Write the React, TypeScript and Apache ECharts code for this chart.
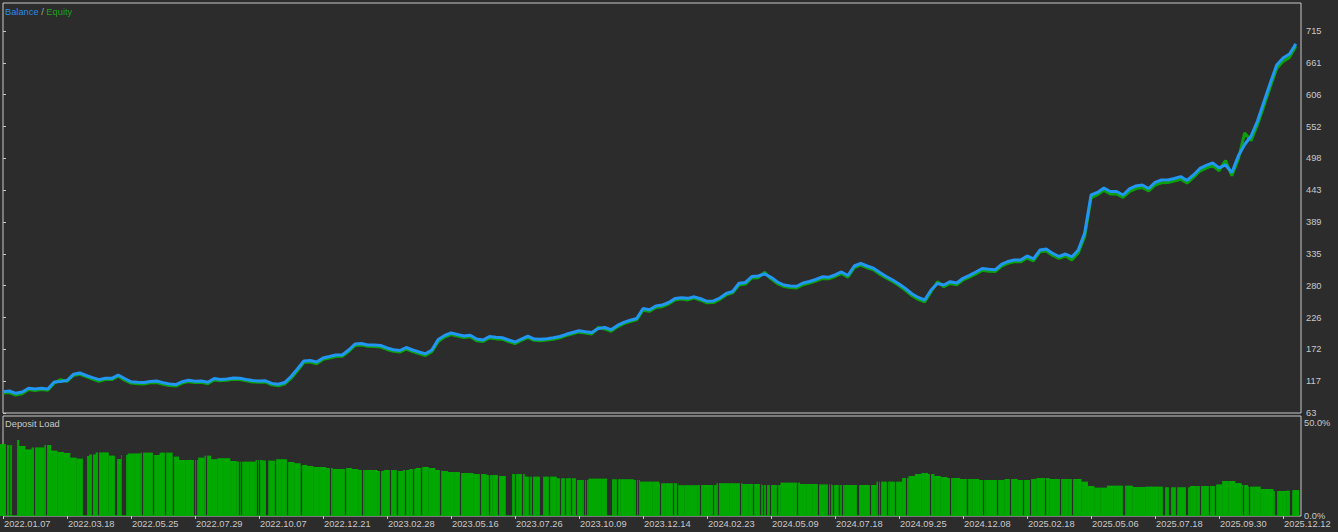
import React, { useEffect, useRef } from 'react';
import * as echarts from 'echarts';

// x axis: deal index (10 steps between date labels)
const dateLabels = [
  '2022.01.07', '2022.03.18', '2022.05.25', '2022.07.29', '2022.10.07', '2022.12.21',
  '2023.02.28', '2023.05.16', '2023.07.26', '2023.10.09', '2023.12.14', '2024.02.23',
  '2024.05.09', '2024.07.18', '2024.09.25', '2024.12.08', '2025.02.18', '2025.05.06',
  '2025.07.18', '2025.09.30', '2025.12.12',
];
const dateTicks = [0, 10, 20, 30, 40, 50, 60, 70, 80, 90, 100, 110, 120, 130, 140, 150, 160, 170, 180, 190, 200];
const X_MAX = 202.8;

const balanceTicks = [63, 117.33, 171.67, 226, 280.33, 334.67, 389, 443.33, 497.67, 552, 606.33, 660.67, 715];
const BAL_MIN = 63;
const BAL_MAX = 762.8;

const balance = [
  99.4, 100.6, 96.6, 98.8, 105.2, 104, 105.2, 104, 115.9, 116.8,
  118.5, 129, 131.3, 127, 123.4, 120, 122.2, 122.2, 127.9, 121.9,
  116.3, 115.4, 115, 116.8, 117.6, 114.7, 112.5, 111.6, 116.4, 118.8,
  117.1, 117.6, 115.6, 121.9, 120.2, 121, 122.7, 122.2, 120.2, 118.3,
  117.6, 118, 113.4, 112, 115, 125.3, 138.1, 151.8, 152.6, 150,
  156.9, 159.4, 162, 162, 170.5, 180.8, 181.6, 179.1, 179.1, 178.2,
  174, 170.9, 169.7, 174.8, 170.5, 167.1, 164, 170.5, 188.5, 195.3,
  199.6, 197, 194.4, 195.8, 189.3, 187.6, 193.6, 192.2, 191.5, 187.6,
  184.2, 189.3, 194.1, 189.3, 188.8, 189.7, 191.3, 193.6, 197.3, 200.4,
  203.3, 201.8, 200.4, 207.2, 208.9, 205.2, 212.4, 217.8, 221.4, 224.3,
  241.4, 239.2, 245.6, 247.3, 251.6, 258.4, 259.7, 258.7, 261.3, 258,
  253.6, 254.2, 259.3, 267, 270.4, 284.4, 285.8, 296, 296.9, 300.3,
  294.6, 286.6, 281.5, 279.8, 279.3, 284.9, 287.5, 290.9, 295.5, 294.9,
  298.6, 303.7, 297.7, 313.9, 318.5, 313.9, 310, 302.8, 296, 290,
  283.2, 275.5, 266.5, 260.2, 255.9, 272.9, 284, 281.5, 287.1, 284.9,
  292.9, 298, 303.7, 309.6, 308.3, 307.4, 316.5, 321.6, 324.2, 324.2,
  331, 325.9, 341.2, 342.9, 335.3, 330.1, 334.4, 329.3, 341.2, 370.3,
  435.1, 439.4, 447.1, 441.1, 441.1, 435.1, 445.4, 450.5, 452.2, 446.2,
  456.5, 460.7, 460.7, 463.3, 466.4, 459.9, 469.3, 480.4, 485.5, 489.8,
  481.3, 486.4, 473.5, 501.7, 521.3, 535.8, 561.4, 593.9, 626.3, 657,
  669, 675.8, 693,
];

const equity = [
  97, 98, 93.5, 96, 103, 101.5, 103, 102, 114, 120,
  117, 127, 129, 125, 121, 117, 120, 120, 126, 119,
  114, 113, 112.5, 114.5, 115, 112, 110, 109, 114, 116.5,
  115, 115.5, 113, 119.5, 118, 119, 120.5, 120, 118, 116,
  115.5, 116, 111, 109.5, 112.5, 122, 135, 149, 150, 147,
  154.5, 157, 159.5, 160, 168, 178, 179, 177, 176.5, 175.5,
  171.5, 168.5, 167, 172, 168, 164.5, 161, 167.5, 185, 192.5,
  197, 194.5, 192, 193, 186.5, 185, 191, 189.5, 189, 185,
  181.5, 187, 191.5, 187, 186.5, 187.5, 189, 191.5, 195, 198,
  201, 199.5, 198, 209, 206.5, 202.5, 210, 215.5, 219, 222,
  238.5, 236.5, 243, 244.5, 249, 256, 257.5, 256, 259, 255.5,
  251, 251.5, 257, 264.5, 268, 281.5, 283, 293.5, 294, 303,
  292, 284, 279, 277, 276.5, 282, 285, 288, 292.5, 292,
  296, 301, 295, 311, 315.5, 311, 307.5, 300, 293.5, 287.5,
  280.5, 272.5, 263.5, 257, 252.5, 270, 287, 278.5, 284, 282,
  290, 295, 300.5, 306.5, 305, 304.5, 313.5, 318.5, 321, 321,
  327.5, 322.5, 338, 339.5, 332, 327, 331, 324, 336, 364,
  430, 435.5, 443, 437, 437, 431, 441, 446, 448, 442,
  452, 456, 456.5, 459, 462, 455.5, 465, 476, 481, 485.5,
  476.5, 494, 468, 496, 541, 528, 555, 587, 620, 651,
  663, 670, 689,
];

// deposit load, percent
const depositLoad = [
  36, 35.5, 38, 35, 33.3, 34.3, 34.3, 35.5, 32.7, 32,
  31.5, 29.2, 28.7, 30, 30.8, 31.8, 31.8, 30.2, 28.5, 30.5,
  31.3, 31.3, 31.7, 31.7, 30.5, 31.7, 31.7, 29.7, 28, 28,
  28, 29.2, 30.2, 28.4, 28.9, 28.9, 27.5, 27.2, 27.2, 27.2,
  28, 27.8, 27.7, 28.4, 28.4, 27, 26.4, 25.5, 25, 24.5,
  24.5, 24, 23.5, 23.5, 24, 23.5, 23, 23, 23, 22.5,
  23, 23, 22.5, 23, 23.5, 24, 24.5, 24, 23, 22.5,
  22, 22, 21.5, 21.5, 21, 21, 20.5, 20.5, 20, 20,
  21, 21, 19.7, 19.7, 19.7, 19.7, 19.7, 18.9, 18.9, 18.9,
  18, 18, 18.7, 18.7, 18.7, 18.4, 18.4, 18.4, 18.4, 18,
  17.2, 17.2, 17.2, 16.4, 16.4, 16.4, 15.4, 15.4, 15.4, 15.5,
  15.5, 15.5, 16.4, 16.4, 16.4, 16.4, 16, 16, 16, 15.5,
  15.5, 15.5, 16.7, 16.7, 16.7, 16, 16, 16, 15.8, 15.8,
  15.5, 15.5, 15.5, 15.5, 15.5, 15.5, 15.5, 17.2, 17.2, 17.2,
  17.2, 19, 20, 21, 21.5, 21, 20, 19.5, 19, 19,
  18.5, 18.5, 18.5, 18, 18, 18, 18, 18.5, 18.5, 18,
  18, 18.5, 19, 19, 18.5, 18.5, 18.5, 18.5, 18.5, 17.2,
  15, 14.2, 14.2, 15.2, 15.2, 15.2, 15.2, 14.5, 14.5, 14.7,
  14.7, 14.7, 14.4, 14.4, 14.4, 14.4, 15, 15, 15, 15,
  15.8, 17.5, 17.5, 16.5, 15.5, 14.7, 14.7, 13.5, 13.5, 12.5,
  12.5, 12.7, 13,
];

// deal indices without open positions (gaps in the deposit load)
const depositGaps = [
  0.47, 0.94, 1.48, 1.64, 1.8, 1.95, 2.11, 4.92, 6.72, 12.58, 12.73, 12.89, 13.05,
  13.98, 14.84, 17.58, 17.73, 18.67, 18.83, 18.98, 19.14, 21.72, 23.44, 25.31, 26.56,
  29.84, 30.16, 31.72, 36.88, 37.19, 39.69, 40.0, 41.09, 41.33, 42.5, 44.38, 46.56,
  51.09, 53.44, 56.09, 58.91, 60.47, 61.56, 62.81, 64.06, 65.31, 68.28, 71.41, 74.53,
  75.94, 77.34, 78.67, 78.83, 78.98, 79.14, 79.3, 79.45, 80.0, 81.09, 82.19, 82.66,
  83.98, 84.14, 84.3, 85.31, 87.03, 87.81, 88.75, 89.53, 90.78, 91.09, 94.45, 94.61,
  94.77, 94.92, 95.08, 95.94, 98.91, 99.22, 102.66, 104.69, 105.31, 108.91, 110.94,
  111.72, 115.16, 117.19, 118.28, 118.75, 119.22, 119.84, 121.02, 124.06, 127.34,
  128.91, 129.22, 129.69, 130.63, 131.09, 133.44, 133.67, 135.47, 136.72, 137.03,
  138.13, 139.38, 141.09, 144.84, 147.97, 150.63, 153.13, 155.31, 157.34, 159.38,
  160.47, 162.81, 165.16, 167.03, 175.08, 175.23, 181.25, 181.48, 182.27, 182.42,
  183.28, 184.92, 185.08, 187.03, 188.44, 189.38, 193.75, 194.69, 198.83, 198.98,
  201.17, 201.33,
];

const BG = '#2c2c2c';
const AXIS = '#c8c8c8';
const FONT = 'Liberation Sans, Arial, sans-serif';
const FS = 9.3;

export default function App() {
  const ref = useRef<HTMLDivElement>(null);

  useEffect(() => {
    if (!ref.current) return;
    const chart = echarts.init(ref.current, null, { renderer: 'svg' });
    const gridW = 1298;
    const barW = gridW / X_MAX;

    const gapTop = (g: number) => {
      const a = depositLoad[Math.max(0, Math.floor(g))] ?? 0;
      const b = depositLoad[Math.min(depositLoad.length - 1, Math.ceil(g))] ?? 0;
      return Math.max(a, b) + 1;
    };

    chart.setOption({
      animation: false,
      backgroundColor: BG,
      textStyle: { fontFamily: FONT },
      title: [
        {
          text: '{b|Balance} {s|/} {e|Equity}',
          left: 5,
          top: 7,
          padding: 0,
          textStyle: {
            fontFamily: FONT,
            fontSize: FS,
            fontWeight: 'normal',
            rich: {
              b: { color: '#2b8be8', fontSize: FS, fontFamily: FONT },
              s: { color: '#a8a8a8', fontSize: FS, fontFamily: FONT },
              e: { color: '#1aa31a', fontSize: FS, fontFamily: FONT },
            },
          },
        },
        {
          text: 'Deposit Load',
          left: 5,
          top: 419,
          padding: 0,
          textStyle: { fontFamily: FONT, fontSize: FS, fontWeight: 'normal', color: AXIS },
        },
      ],
      grid: [
        { left: 3, top: 3, width: gridW, height: 410, show: true, borderColor: AXIS, borderWidth: 1, backgroundColor: 'transparent' },
        { left: 3, top: 416, width: gridW, height: 100, show: true, borderColor: AXIS, borderWidth: 1, backgroundColor: 'transparent' },
      ],
      xAxis: [
        { type: 'value', gridIndex: 0, min: 0, max: X_MAX, show: false },
        {
          type: 'value',
          gridIndex: 1,
          min: 0,
          max: X_MAX,
          splitLine: { show: false },
          axisLine: { show: false },
          axisTick: { show: true, customValues: dateTicks, length: 3, lineStyle: { color: AXIS } },
          axisLabel: {
            customValues: dateTicks,
            formatter: (v: number) => dateLabels[Math.round(v / 10)] ?? '',
            align: 'left',
            margin: 3,
            padding: [0, 0, 0, 1],
            color: AXIS,
            fontFamily: FONT,
            fontSize: FS,
          },
        },
      ],
      yAxis: [
        {
          type: 'value',
          gridIndex: 0,
          position: 'right',
          min: BAL_MIN,
          max: BAL_MAX,
          splitLine: { show: false },
          axisLine: { show: false },
          axisTick: { show: true, customValues: balanceTicks, length: 3, lineStyle: { color: AXIS } },
          axisLabel: {
            customValues: balanceTicks,
            formatter: (v: number) => String(Math.round(v)),
            margin: 5,
            color: AXIS,
            fontFamily: FONT,
            fontSize: FS,
          },
        },
        {
          type: 'value',
          gridIndex: 1,
          position: 'right',
          min: 0,
          max: 50,
          splitLine: { show: false },
          axisLine: { show: false },
          axisTick: { show: false },
          axisLabel: {
            customValues: [0, 50],
            formatter: (v: number) => (v >= 50 ? '{t|50.0%}' : '{z|0.0%}'),
            margin: 3,
            color: AXIS,
            fontFamily: FONT,
            fontSize: FS,
            rich: {
              t: { padding: [13, 0, 0, 0], color: AXIS, fontFamily: FONT, fontSize: FS },
              z: { padding: [0, 0, 0, 0], color: AXIS, fontFamily: FONT, fontSize: FS },
            },
          },
        },
      ],
      series: [
        {
          name: 'Equity',
          type: 'line',
          xAxisIndex: 0,
          yAxisIndex: 0,
          data: equity.map((v, i) => [i, v]),
          showSymbol: false,
          symbol: 'none',
          lineStyle: { color: '#0ca00c', width: 3 },
          itemStyle: { color: '#0ca00c' },
          z: 2,
          silent: true,
        },
        {
          name: 'Balance',
          type: 'line',
          xAxisIndex: 0,
          yAxisIndex: 0,
          data: balance.map((v, i) => [i, v]),
          showSymbol: false,
          symbol: 'none',
          lineStyle: { color: '#2196f3', width: 3 },
          itemStyle: { color: '#2196f3' },
          z: 3,
          silent: true,
        },
        {
          name: 'Deposit Load',
          type: 'bar',
          xAxisIndex: 1,
          yAxisIndex: 1,
          data: depositLoad.map((v, i) => [i, v]),
          barWidth: barW + 0.3,
          itemStyle: { color: '#00a800' },
          clip: true,
          silent: true,
          markLine: {
            silent: true,
            symbol: ['none', 'none'],
            label: { show: false },
            lineStyle: { color: BG, width: 1.2, type: 'solid', opacity: 1 },
            emphasis: { disabled: true },
            data: depositGaps.map((g) => [{ coord: [g, 0.4] }, { coord: [g, gapTop(g)] }]),
          },
        },
      ],
    });

    return () => chart.dispose();
  }, []);

  return (
    <div
      ref={ref}
      style={{ position: 'fixed', left: 0, top: 0, width: 1338, height: 532 }}
    />
  );
}
